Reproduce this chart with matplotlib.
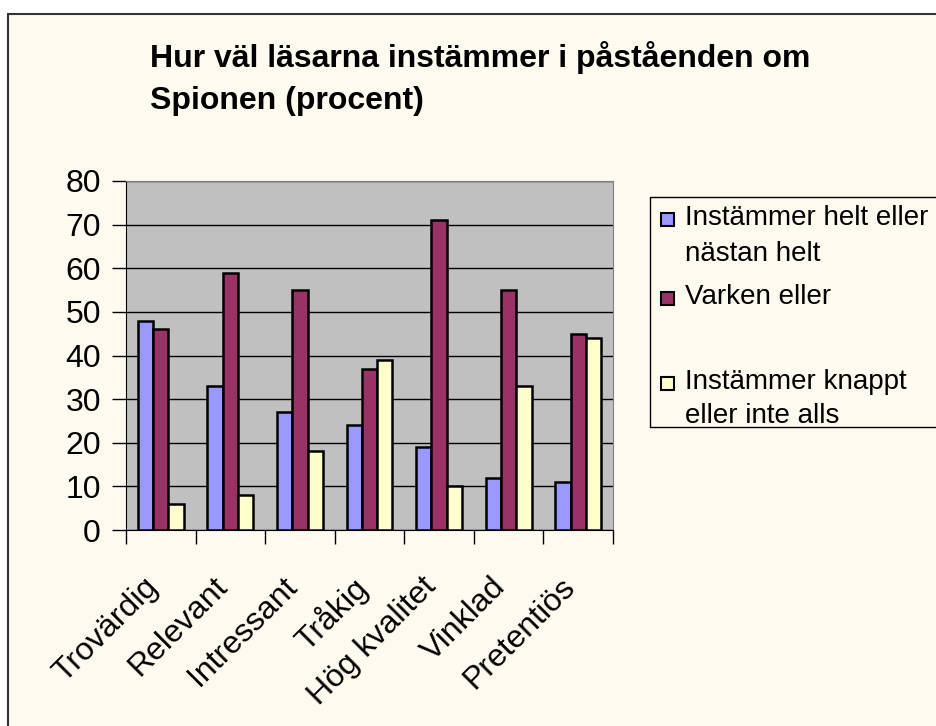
import numpy as np
import matplotlib
matplotlib.use('Agg')
import matplotlib.pyplot as plt
from matplotlib.patches import Rectangle

# Data
categories = ['Trovärdig', 'Relevant', 'Intressant', 'Tråkig', 'Hög kvalitet', 'Vinklad', 'Pretentiös']
helt = [48, 33, 27, 24, 19, 12, 11]
varken = [46, 59, 55, 37, 71, 55, 45]
knappt = [6, 8, 18, 39, 10, 33, 44]
colors = ['#9999FF', '#993366', '#FFFFCC']

plt.rcParams['font.family'] = ['Liberation Sans', 'DejaVu Sans']

fig = plt.figure(figsize=(9.37, 7.26), dpi=100)
fig.patch.set_facecolor('white')

# chart area (cream box, clipped at right/bottom)
bg = Rectangle((8 / 937, -0.1), 1.2, 1 - 14 / 726 + 0.1, transform=fig.transFigure,
               facecolor='#FFFAF0', edgecolor='#333333', linewidth=1.5, zorder=-10)
fig.patches.append(bg)

ax = fig.add_axes([126 / 937, 1 - 530 / 726, (613 - 126) / 937, (530 - 181) / 726])
ax.set_facecolor('#C0C0C0')

x = np.arange(len(categories))
w = 0.22
for i, (vals, c) in enumerate(zip([helt, varken, knappt], colors)):
    ax.bar(x + (i - 1) * w, vals, width=w, color=c, edgecolor='black', linewidth=1.8, zorder=3)

ax.set_xlim(-0.5, len(categories) - 0.5)
ax.set_ylim(0, 80)
ax.set_yticks(range(0, 81, 10))
ax.tick_params(axis='y', labelsize=23, length=10, width=1, direction='out', pad=8)
ax.grid(axis='y', color='black', linewidth=1, zorder=1)
ax.set_axisbelow(True)

ax.set_xticks(np.arange(-0.5, len(categories), 1))
ax.set_xticklabels([])
ax.tick_params(axis='x', length=10, width=1, direction='out')
for xi, lab in zip(x, categories):
    ax.annotate(lab, xy=(xi - 0.26, 0), xycoords=('data', 'axes fraction'),
                xytext=(0, -30), textcoords='offset points',
                rotation=45, ha='right', va='top', rotation_mode='anchor', fontsize=23)

for s in ['top', 'right']:
    ax.spines[s].set_color('#808080')
for s in ['left', 'bottom']:
    ax.spines[s].set_color('black')

fig.text(150 / 937, 1 - 58 / 726, 'Hur väl läsarna instämmer i påståenden om',
         fontsize=23, fontweight='bold', ha='left', va='center')
fig.text(150 / 937, 1 - 101 / 726, 'Spionen (procent)',
         fontsize=23, fontweight='bold', ha='left', va='center')

# legend box
fig.patches.append(Rectangle((650 / 937, 1 - 427 / 726), 0.5, (427 - 197) / 726,
                             transform=fig.transFigure, facecolor='#FFFAF0',
                             edgecolor='black', linewidth=1))
leg_rows = [(219, 'Instämmer helt eller', colors[0]), (255, 'nästan helt', None),
            (298, 'Varken eller', colors[1]), (383, 'Instämmer knappt', colors[2]),
            (417, 'eller inte alls', None)]
for y, txt, c in leg_rows:
    if c is not None:
        fig.patches.append(Rectangle((661 / 937, 1 - (y + 7) / 726), 13 / 937, 13 / 726,
                                     transform=fig.transFigure, facecolor=c,
                                     edgecolor='black', linewidth=1.5))
    fig.text(685 / 937, 1 - (y - 1) / 726, txt, fontsize=20, ha='left', va='center')

fig.savefig('out.png', dpi=100, facecolor=fig.get_facecolor())
